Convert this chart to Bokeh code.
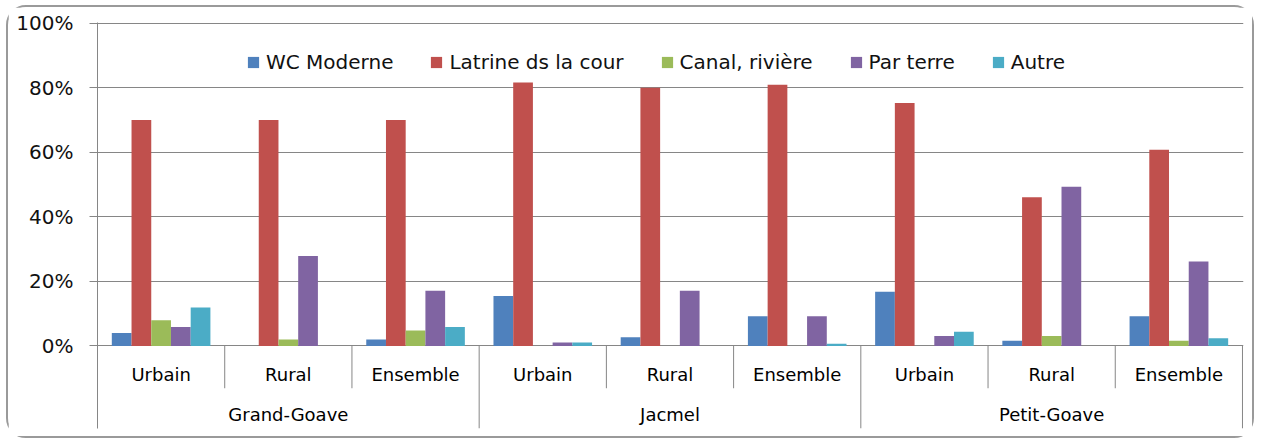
from bokeh.plotting import figure
from bokeh.models import (Range1d, FixedTicker, PrintfTickFormatter, ColumnDataSource,
                          Legend, LegendItem)
from bokeh.transform import dodge
from bokeh.core.properties import value
from bokeh.embed import file_html
from bokeh.resources import INLINE

# ---------------- data ----------------
groups = ["Grand-Goave", "Jacmel", "Petit-Goave"]
subcats = ["Urbain", "Rural", "Ensemble"]
series = ["WC Moderne", "Latrine ds la cour", "Canal, rivière", "Par terre", "Autre"]
colors = ["#4F81BD", "#C0504D", "#9BBB59", "#8064A2", "#4BACC6"]

wc_moderne = [4.0, 0.0, 2.0, 15.5, 2.7, 9.2, 16.8, 1.6, 9.2]
latrine = [70.0, 70.0, 70.0, 81.6, 80.0, 80.9, 75.3, 46.1, 60.8]
canal = [8.0, 2.0, 4.8, 0.0, 0.0, 0.0, 0.0, 3.1, 1.6]
par_terre = [5.9, 27.9, 17.1, 1.1, 17.1, 9.2, 3.1, 49.3, 26.2]
autre = [11.9, 0.0, 5.9, 1.1, 0.0, 0.7, 4.4, 0.0, 2.4]
values = [wc_moderne, latrine, canal, par_terre, autre]

y_ticks = [0, 20, 40, 60, 80, 100]

FONT = "DejaVu Sans"
GRID = "#868686"

# ---------------- derived positions ----------------
n_sub = len(subcats)
cat_labels = [s for g in groups for s in subcats]
n = len(cat_labels)
xc = [i + 0.5 for i in range(n)]

src = ColumnDataSource(dict(x=xc, label=cat_labels,
                            **{f"s{k}": v for k, v in enumerate(values)}))

p = figure(width=1248, height=433, output_backend="svg", toolbar_location=None,
           x_range=Range1d(0, n + 0.008), y_range=Range1d(-25.57, 100.2),
           min_border_left=89, min_border_right=13, min_border_top=15,
           min_border_bottom=12)
p.styles = {"border": "2px solid #9a9a9a", "border-radius": "20px",
            "margin-left": "6px", "margin-top": "5px"}
p.outline_line_color = None
p.background_fill_color = "white"
p.border_fill_color = "white"

bw = 0.155
renderers = []
for k, (name, col) in enumerate(zip(series, colors)):
    off = (k - (len(series) - 1) / 2) * bw
    r = p.vbar(x=dodge("x", off, range=p.x_range), top=f"s{k}", bottom=0, width=bw,
               source=src, fill_color=col, line_color=None)
    renderers.append(r)

# axes / grid
p.xaxis.visible = False
p.xgrid.visible = False
p.ygrid.ticker = FixedTicker(ticks=y_ticks)
p.ygrid.grid_line_color = GRID
p.ygrid.grid_line_width = 1
yax = p.yaxis[0]
yax.ticker = FixedTicker(ticks=y_ticks)
yax.formatter = PrintfTickFormatter(format="%d%%")
yax.axis_line_color = GRID
yax.major_tick_line_color = GRID
yax.major_tick_out = 8
yax.major_tick_in = 0
yax.minor_tick_line_color = None
yax.major_label_standoff = 16
yax.major_label_text_font = FONT
yax.major_label_text_font_size = "20px"
yax.major_label_text_color = "#111111"

# category separators
sub_sep = [i for i in range(1, n) if i % n_sub != 0]
grp_sep = [i for i in range(n_sub, n + 1, n_sub)]
p.segment(x0=sub_sep, y0=[0] * len(sub_sep), x1=sub_sep, y1=[-13.1] * len(sub_sep),
          line_color=GRID, line_width=1)
p.segment(x0=grp_sep, y0=[0] * len(grp_sep), x1=grp_sep, y1=[-25.57] * len(grp_sep),
          line_color=GRID, line_width=1)

# category labels
p.text(x="x", y=-8.8, text="label", source=src, text_font=value(FONT),
       text_font_size="18px", text_align="center", text_baseline="middle",
       text_color="#000000")
gx = [(g * n_sub) + n_sub / 2 for g in range(len(groups))]
p.text(x=gx, y=[-21.2] * len(groups), text=groups, text_font=value(FONT),
       text_font_size="18px", text_align="center", text_baseline="middle",
       text_color="#000000")

legend = Legend(items=[LegendItem(label=s, renderers=[r]) for s, r in zip(series, renderers)],
                location=(149, 354), orientation="horizontal",
                glyph_width=14, glyph_height=14, label_standoff=6, spacing=36,
                padding=0, margin=0, border_line_color=None,
                background_fill_alpha=0,
                label_text_font=FONT, label_text_font_size="20px",
                label_text_color="#111111")
p.add_layout(legend)

open("out.html", "w").write(file_html(p, INLINE))
